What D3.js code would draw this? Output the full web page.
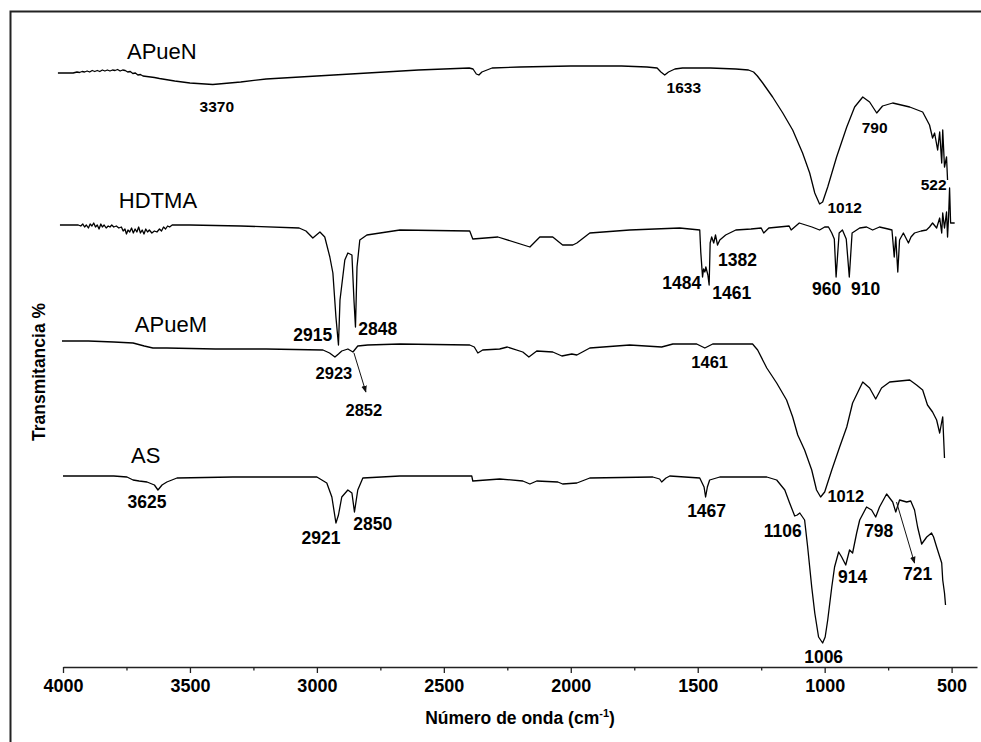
<!DOCTYPE html>
<html><head><meta charset="utf-8">
<script src="https://cdn.jsdelivr.net/npm/d3@7"></script>
<style>
body{margin:0;background:#fff;}
svg{display:block;font-family:"Liberation Sans",Arial,Helvetica,sans-serif;}
</style>
</head><body>
<svg id="chart" width="981" height="742"></svg>
<script>
// ---- tick values ----
const xTicksMajor = [4000,3500,3000,2500,2000,1500,1000,500];
const xTicksMinor = [3750,3250,2750,2250,1750,1250,750];

// ---- spectra: [wavenumber (cm-1), transmittance (offset, a.u.)] ----
const apuen = [[4020,594],[3990,594],[3960,594],[3945,595],[3935,594.5],[3925,595.5],[3915,595],[3905,596],[3895,595],[3885,596.5],[3875,595.5],[3865,596.5],[3855,595.5],[3845,597],[3835,596],[3825,597],[3815,596],[3805,597],[3795,596.5],[3785,597.5],[3775,596],[3765,597],[3755,596.5],[3745,595],[3735,595.5],[3725,593.5],[3715,594],[3705,592],[3695,592.5],[3685,591],[3670,590.5],[3655,590],[3640,589.5],[3620,588.5],[3560,586],[3500,584],[3410,582.5],[3300,585],[3200,588],[3000,591],[2800,594],[2600,597],[2400,599],[2385,598],[2372,593],[2362,592],[2350,595],[2310,599],[2200,600],[2000,601],[1800,601],[1700,600],[1660,599],[1645,595],[1630,592],[1615,595],[1590,598],[1560,599],[1450,599],[1350,598],[1300,597],[1280,595],[1265,591],[1244,584],[1205,570],[1165,554],[1126,537],[1087,514],[1059,494],[1039,474],[1020,463],[1008,465],[988,480],[953,510],[913,540],[882,560],[850,570],[823,565],[795,554],[772,561],[732,564],[665,560],[614,555],[587,542],[575,529],[567,534],[555,517],[547,535],[539,504],[535,537],[528,500],[520,510],[516,487]];

const hdtma = [[4012,442],[3940,442],[3930,441],[3922,443],[3915,440],[3908,442],[3900,439],[3893,443],[3886,441],[3879,444],[3872,440],[3865,442],[3858,438],[3851,443],[3845,440],[3838,442],[3830,439],[3822,441],[3815,440],[3808,442],[3800,440],[3790,441],[3780,439],[3770,440],[3763,436],[3756,438],[3750,433],[3744,437],[3737,435],[3730,439],[3723,434],[3716,438],[3709,435],[3702,440],[3695,434],[3688,437],[3681,433],[3674,438],[3667,435],[3660,437],[3650,434],[3640,436],[3630,435],[3620,438],[3612,436],[3604,440],[3596,438],[3588,441],[3580,440],[3570,442],[3500,442],[3300,441],[3070,439],[3043,436],[3016,429],[2988,435],[2969,430],[2949,410],[2937,394],[2925,350],[2915,322],[2909,367],[2890,407],[2878,414],[2862,412],[2854,367],[2848,340],[2842,400],[2831,427],[2803,432],[2673,437],[2398,436],[2386,428],[2287,430],[2161,420],[2122,430],[2071,430],[2032,422],[1992,422],[1976,424],[1925,434],[1768,437],[1571,439],[1492,437],[1488,415],[1481,390],[1477,398],[1472,395],[1468,400],[1460,392],[1455,382],[1451,424],[1445,430],[1437,424],[1430,432],[1422,422],[1413,427],[1390,432],[1350,437],[1290,438],[1250,439],[1240,434],[1220,439],[1140,441],[1132,437],[1100,444],[1050,440],[1020,437],[1000,440],[985,440],[972,434],[962,428],[955,390],[943,434],[930,437],[915,428],[903,390],[892,434],[862,439],[835,440],[811,437],[784,440],[750,438],[735,437],[726,410],[720,430],[712,395],[705,427],[690,434],[670,424],[660,430],[646,434],[620,436],[599,437],[587,440],[575,444],[559,439],[547,449],[539,434],[535,454],[528,439],[520,455],[516,430],[512,450],[508,479],[504,444],[488,444]];

const apuem = [[4004,326],[3900,326],[3800,325],[3724,324],[3680,321],[3646,319],[3591,319],[3400,318],[3200,318],[2976,317],[2950,314],[2929,310],[2915,313],[2902,316],[2878,318],[2858,315],[2839,321],[2800,322],[2673,323],[2398,322],[2380,320],[2366,314],[2347,317],[2280,318],[2250,320],[2189,315],[2165,310],[2134,316],[2071,315],[2035,311],[1996,313],[1976,312],[1925,319],[1768,322],[1642,320],[1598,323],[1504,323],[1472,319],[1441,323],[1284,323],[1264,317],[1228,299],[1189,284],[1150,267],[1126,250],[1106,232],[1079,217],[1051,197],[1032,177],[1016,170],[1000,175],[972,197],[941,220],[913,240],[890,264],[850,285],[823,279],[799,268],[776,279],[744,285],[665,287],[638,282],[614,277],[595,262],[575,255],[559,247],[547,234],[539,245],[535,250],[528,209]];

const asData = [[4000,191],[3900,191],[3854,191],[3800,191],[3748,190],[3724,187],[3700,186],[3669,185],[3640,182],[3626,177],[3610,182],[3591,185],[3551,189],[3331,190],[3000,190],[2961,184],[2941,170],[2925,144],[2915,152],[2902,170],[2878,177],[2862,174],[2852,155],[2839,177],[2819,189],[2673,191],[2390,191],[2386,186],[2280,188],[2189,186],[2161,183],[2134,186],[2051,185],[2032,183],[1976,184],[1925,189],[1677,190],[1650,188],[1642,185],[1625,189],[1610,191],[1492,189],[1475,180],[1469,170],[1462,180],[1453,187],[1413,190],[1228,190],[1189,187],[1157,177],[1138,164],[1118,151],[1108,152],[1098,154],[1079,147],[1067,120],[1051,80],[1039,54],[1024,30],[1008,24],[998,30],[988,47],[972,80],[961,100],[945,115],[933,110],[917,102],[902,117],[890,114],[874,134],[862,147],[835,160],[815,157],[799,150],[784,160],[756,173],[732,165],[720,155],[705,167],[677,165],[661,166],[646,157],[634,140],[618,123],[598,130],[579,134],[571,130],[559,120],[539,104],[535,87],[528,74],[524,62]];

const seriesNames = ["APueN","HDTMA","APueM","AS"];
const seriesData = [apuen, hdtma, apuem, asData];

// series name labels: [name, wavenumber, transmittance]
const seriesLabels = [["APueN",3748,608],["HDTMA",3780,459],["APueM",3717,335],["AS",3732,204]];

// peak labels: [series, text, wavenumber, transmittance]
const peakLabels = [
 ["APueN","3370",3394,555],["APueN","1633",1555,574],["APueN","790",803,534],["APueN","522",571,477],["APueN","1012",921,454],
 ["HDTMA","1484",1563,378],["HDTMA","1382",1343,401],["HDTMA","1461",1366,368],["HDTMA","960",992,372],["HDTMA","910",839,372],["HDTMA","2915",3016,326],["HDTMA","2848",2760,332],
 ["APueM","2923",2933,288],["APueM","2852",2815,251],["APueM","1461",1453,299],["APueM","1012",917,165],
 ["AS","3625",3669,159],["AS","2921",2984,123],["AS","2850",2780,137],["AS","1467",1465,150],["AS","1106",1165,130],["AS","1006",1004,4],["AS","914",890,84],["AS","798",787,130],["AS","721",634,87]
];
// arrows: [wn1, t1, wn2, t2]
const arrows = [[2854,314,2807,275],[717,165,646,104]];

const labelSize = {APueN:15.5, HDTMA:17.5, APueM:16.5, AS:17.5};

// ---- drawing ----
const svg = d3.select("#chart");
const x = d3.scaleLinear().domain([4000,400]).range([63,977]);
const y = d3.scaleLinear().domain([0,656]).range([667,11]);

svg.append("rect").attr("width",981).attr("height",742).attr("fill","#fff");

// frame
svg.append("path").attr("d","M10.5,742V11.5H981").attr("fill","none").attr("stroke","#222").attr("stroke-width",2);

// defs arrow
svg.append("defs").append("marker").attr("id","ah").attr("viewBox","0 0 10 10")
  .attr("refX",9).attr("refY",5).attr("markerWidth",7).attr("markerHeight",7).attr("orient","auto")
  .append("path").attr("d","M0,1L10,5L0,9Z").attr("fill","#111");

// x axis
const gx = svg.append("g").attr("transform","translate(0,667)");
gx.call(d3.axisBottom(x).tickValues(xTicksMajor).tickSize(6).tickSizeOuter(0).tickPadding(6).tickFormat(d3.format("d")));
gx.select(".domain").attr("stroke","#222").attr("stroke-width",1.6);
gx.selectAll(".tick line").attr("stroke","#222").attr("stroke-width",1.3);
gx.selectAll(".tick text").attr("font-size",18).attr("font-weight","bold").attr("fill","#000")
  .attr("font-family","'Liberation Sans',Arial,sans-serif");
const gm = svg.append("g").attr("transform","translate(0,667)");
gm.call(d3.axisBottom(x).tickValues(xTicksMinor).tickSize(3.5).tickSizeOuter(0).tickFormat(""));
gm.select(".domain").remove();
gm.selectAll(".tick line").attr("stroke","#222").attr("stroke-width",1.3);

// axis titles
const xt = svg.append("text").attr("x",520).attr("y",724).attr("text-anchor","middle")
  .attr("font-size",17.5).attr("font-weight","bold").attr("fill","#000");
xt.append("tspan").text("Número de onda (cm");
xt.append("tspan").attr("font-size",11).attr("dy",-7).text("-1");
xt.append("tspan").attr("dy",7).text(")");

svg.append("text").attr("transform","translate(45,372) rotate(-90)").attr("text-anchor","middle")
  .attr("font-size",17.5).attr("font-weight","bold").attr("fill","#000").text("Transmitancia %");

// spectra
const line = d3.line().x(d=>x(d[0])).y(d=>y(d[1]));
svg.append("g").selectAll("path").data(seriesData).join("path")
  .attr("d",line).attr("fill","none").attr("stroke","#000").attr("stroke-width",1.3).attr("stroke-linejoin","round");

// series labels
svg.append("g").selectAll("text").data(seriesLabels).join("text")
  .attr("x",d=>x(d[1])).attr("y",d=>y(d[2])).attr("font-size",22).attr("fill","#000").text(d=>d[0]);

// peak labels
svg.append("g").selectAll("text").data(peakLabels).join("text")
  .attr("x",d=>x(d[2])).attr("y",d=>y(d[3])).attr("text-anchor","middle")
  .attr("font-size",d=>labelSize[d[0]]).attr("font-weight","bold").attr("fill","#000").text(d=>d[1]);

// arrows
svg.append("g").selectAll("line").data(arrows).join("line")
  .attr("x1",d=>x(d[0])).attr("y1",d=>y(d[1])).attr("x2",d=>x(d[2])).attr("y2",d=>y(d[3]))
  .attr("stroke","#111").attr("stroke-width",1).attr("marker-end","url(#ah)");
</script>
</body></html>
